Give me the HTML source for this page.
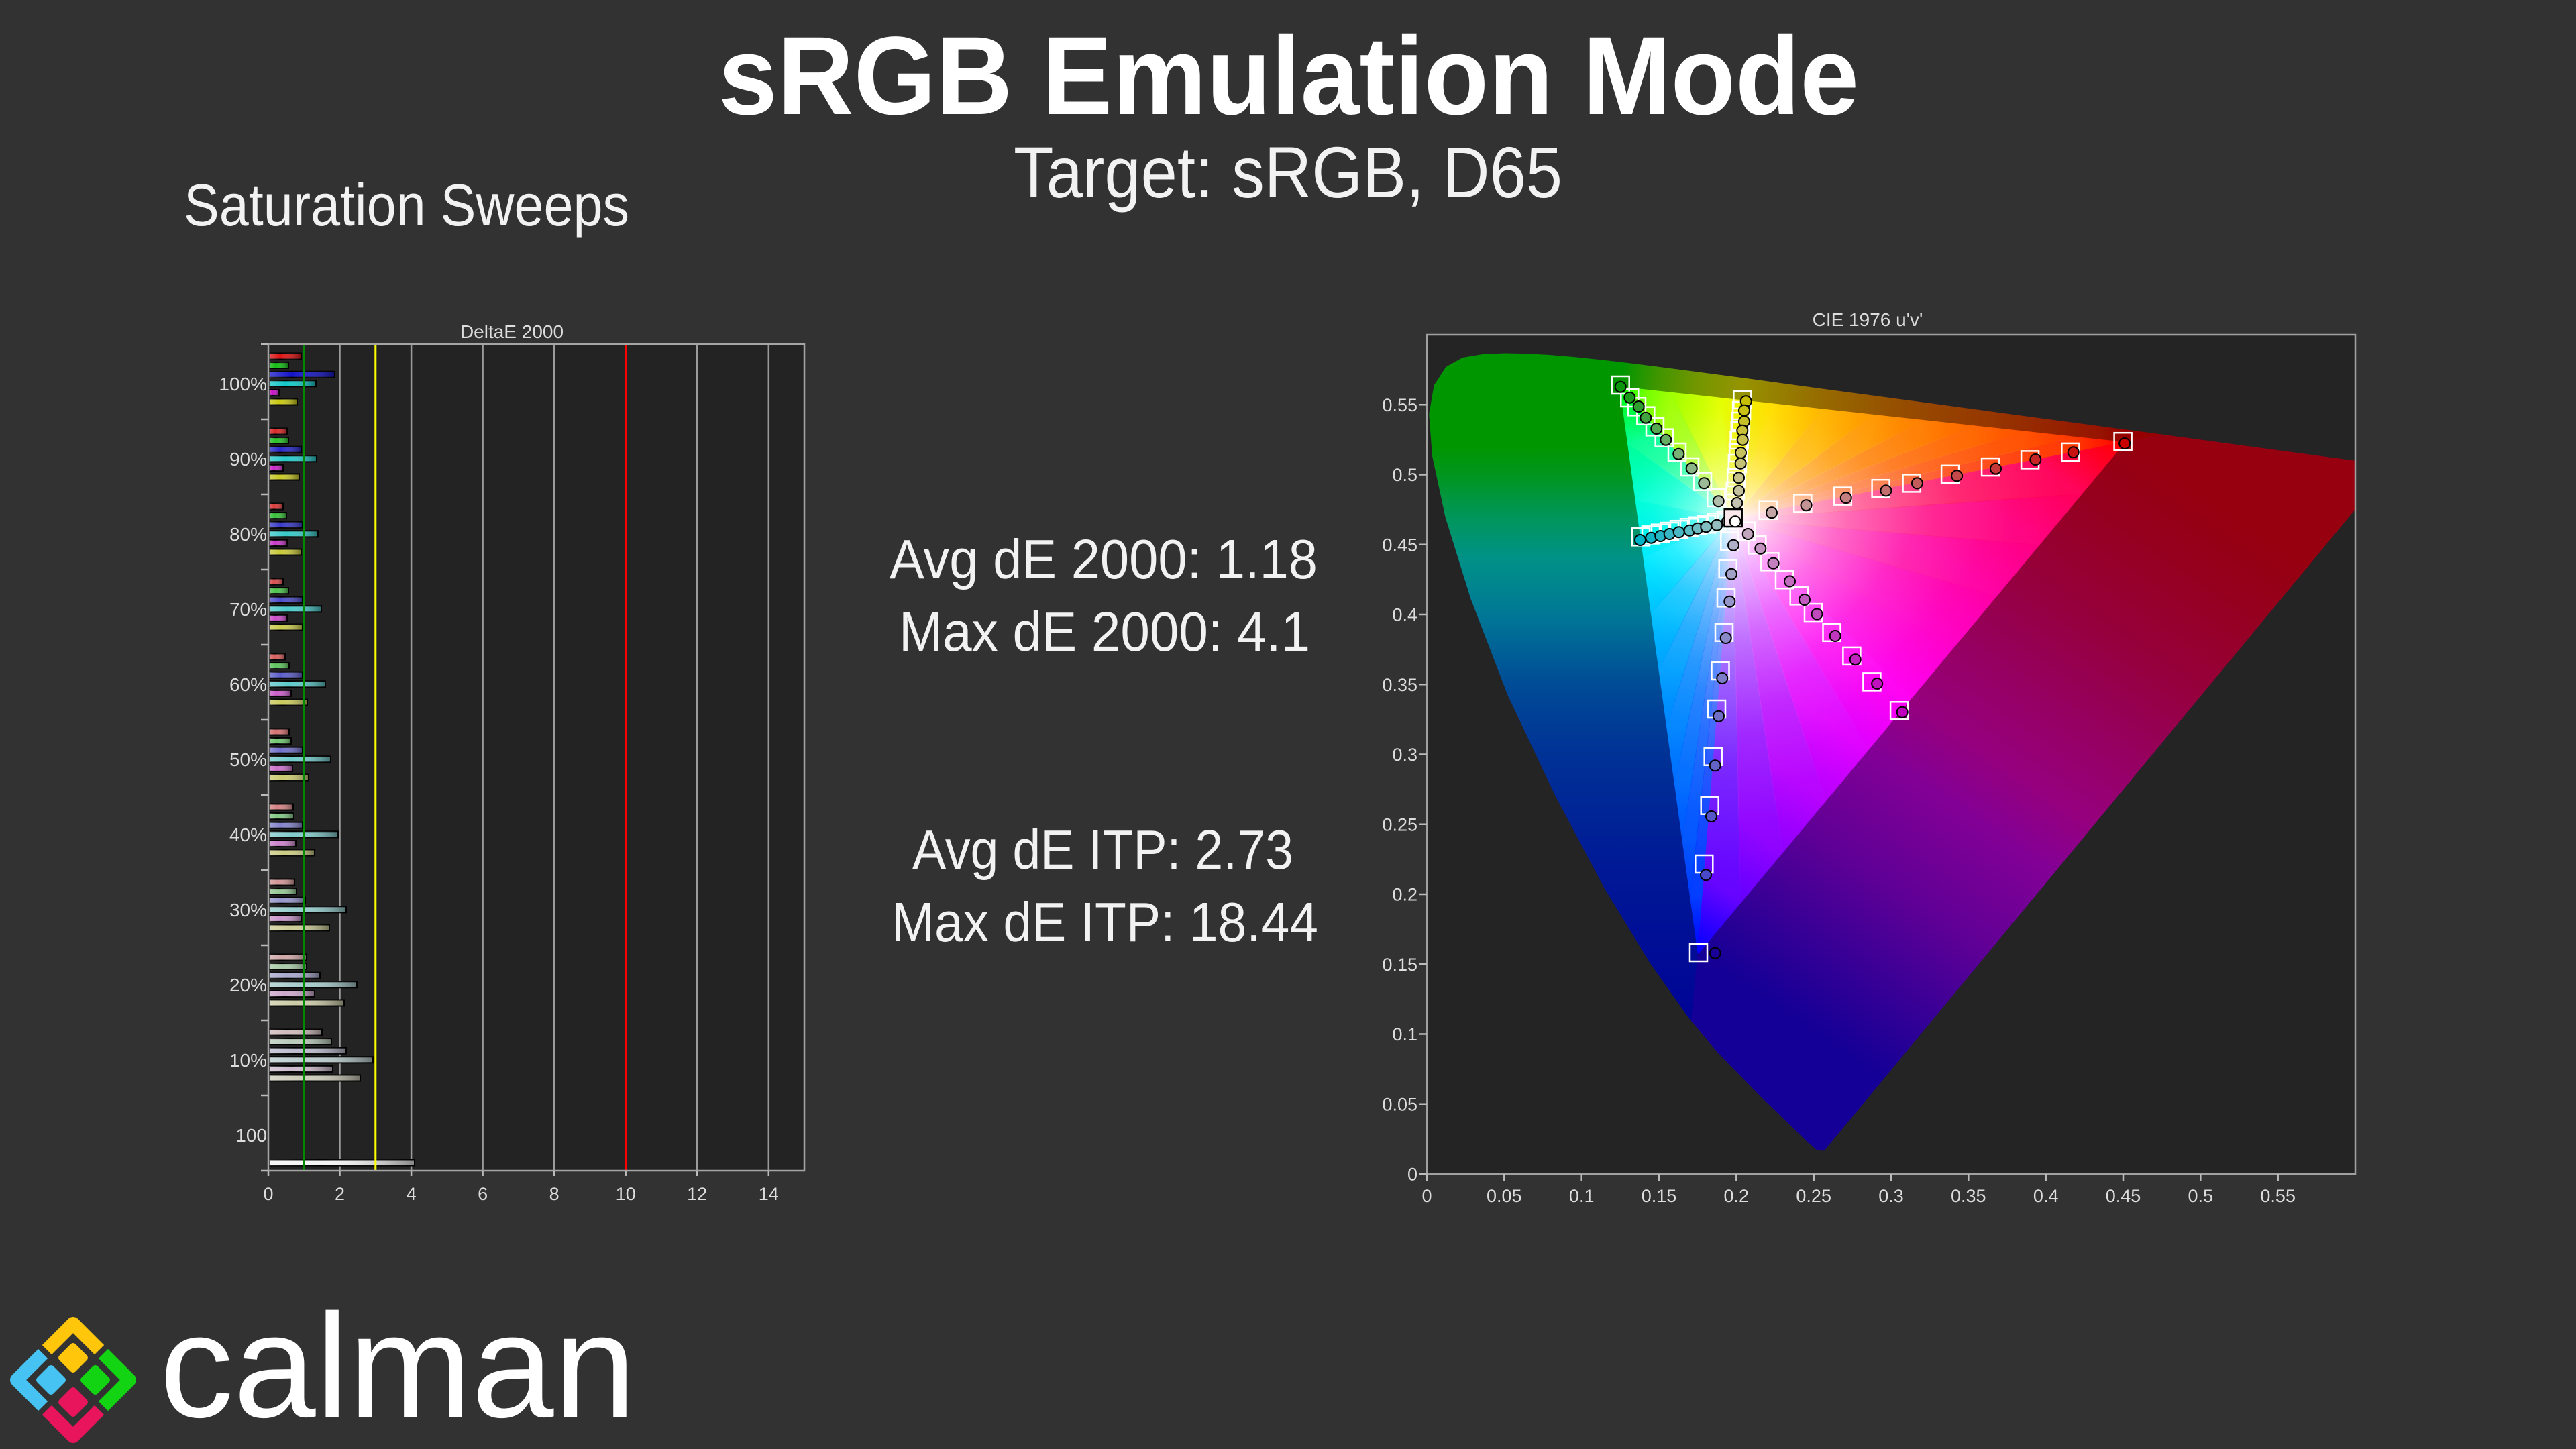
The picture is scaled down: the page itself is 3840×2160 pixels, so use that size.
<!DOCTYPE html>
<html>
<head>
<meta charset="utf-8">
<style>
html,body{margin:0;padding:0;background:#323232;width:3840px;height:2160px;overflow:hidden;}
svg{position:absolute;left:0;top:0;display:block;overflow:hidden;}
text{font-family:"Liberation Sans",sans-serif;}
</style>
</head>
<body>
<svg width="3840" height="2160" viewBox="0 0 3840 2160" xmlns="http://www.w3.org/2000/svg" xmlns:xlink="http://www.w3.org/1999/xlink">
<defs>
  <linearGradient id="sh" x1="0" y1="0" x2="1" y2="0">
    <stop offset="0" stop-color="#fff" stop-opacity="0.25"/>
    <stop offset="0.35" stop-color="#fff" stop-opacity="0"/>
    <stop offset="1" stop-color="#000" stop-opacity="0.45"/>
  </linearGradient>
  <linearGradient id="wb">
    <stop offset="0" stop-color="#fff" stop-opacity="1"/>
    <stop offset="0.15" stop-color="#fff" stop-opacity="0.72"/>
    <stop offset="0.35" stop-color="#fff" stop-opacity="0.42"/>
    <stop offset="0.6" stop-color="#fff" stop-opacity="0.16"/>
    <stop offset="0.85" stop-color="#fff" stop-opacity="0.03"/>
    <stop offset="1" stop-color="#fff" stop-opacity="0"/>
  </linearGradient>
  <linearGradient id="w0" xlink:href="#wb" gradientUnits="userSpaceOnUse" x1="0.1978" y1="0.4683" x2="0.43442" y2="0.52488"/>
  <linearGradient id="w1" xlink:href="#wb" gradientUnits="userSpaceOnUse" x1="0.1978" y1="0.4683" x2="0.40185" y2="0.52884"/>
  <linearGradient id="w2" xlink:href="#wb" gradientUnits="userSpaceOnUse" x1="0.1978" y1="0.4683" x2="0.36928" y2="0.5328"/>
  <linearGradient id="w3" xlink:href="#wb" gradientUnits="userSpaceOnUse" x1="0.1978" y1="0.4683" x2="0.33671" y2="0.53676"/>
  <linearGradient id="w4" xlink:href="#wb" gradientUnits="userSpaceOnUse" x1="0.1978" y1="0.4683" x2="0.30414" y2="0.54072"/>
  <linearGradient id="w5" xlink:href="#wb" gradientUnits="userSpaceOnUse" x1="0.1978" y1="0.4683" x2="0.27157" y2="0.54468"/>
  <linearGradient id="w6" xlink:href="#wb" gradientUnits="userSpaceOnUse" x1="0.1978" y1="0.4683" x2="0.239" y2="0.54864"/>
  <linearGradient id="w7" xlink:href="#wb" gradientUnits="userSpaceOnUse" x1="0.1978" y1="0.4683" x2="0.20643" y2="0.5526"/>
  <linearGradient id="w8" xlink:href="#wb" gradientUnits="userSpaceOnUse" x1="0.1978" y1="0.4683" x2="0.17386" y2="0.55656"/>
  <linearGradient id="w9" xlink:href="#wb" gradientUnits="userSpaceOnUse" x1="0.1978" y1="0.4683" x2="0.14129" y2="0.56052"/>
  <linearGradient id="w10" xlink:href="#wb" gradientUnits="userSpaceOnUse" x1="0.1978" y1="0.4683" x2="0.12752" y2="0.54227"/>
  <linearGradient id="w11" xlink:href="#wb" gradientUnits="userSpaceOnUse" x1="0.1978" y1="0.4683" x2="0.13256" y2="0.50181"/>
  <linearGradient id="w12" xlink:href="#wb" gradientUnits="userSpaceOnUse" x1="0.1978" y1="0.4683" x2="0.1376" y2="0.46135"/>
  <linearGradient id="w13" xlink:href="#wb" gradientUnits="userSpaceOnUse" x1="0.1978" y1="0.4683" x2="0.14264" y2="0.42089"/>
  <linearGradient id="w14" xlink:href="#wb" gradientUnits="userSpaceOnUse" x1="0.1978" y1="0.4683" x2="0.14768" y2="0.38043"/>
  <linearGradient id="w15" xlink:href="#wb" gradientUnits="userSpaceOnUse" x1="0.1978" y1="0.4683" x2="0.15272" y2="0.33997"/>
  <linearGradient id="w16" xlink:href="#wb" gradientUnits="userSpaceOnUse" x1="0.1978" y1="0.4683" x2="0.15776" y2="0.29951"/>
  <linearGradient id="w17" xlink:href="#wb" gradientUnits="userSpaceOnUse" x1="0.1978" y1="0.4683" x2="0.1628" y2="0.25905"/>
  <linearGradient id="w18" xlink:href="#wb" gradientUnits="userSpaceOnUse" x1="0.1978" y1="0.4683" x2="0.16784" y2="0.21859"/>
  <linearGradient id="w19" xlink:href="#wb" gradientUnits="userSpaceOnUse" x1="0.1978" y1="0.4683" x2="0.17288" y2="0.17813"/>
  <linearGradient id="w20" xlink:href="#wb" gradientUnits="userSpaceOnUse" x1="0.1978" y1="0.4683" x2="0.18917" y2="0.17615"/>
  <linearGradient id="w21" xlink:href="#wb" gradientUnits="userSpaceOnUse" x1="0.1978" y1="0.4683" x2="0.2167" y2="0.21265"/>
  <linearGradient id="w22" xlink:href="#wb" gradientUnits="userSpaceOnUse" x1="0.1978" y1="0.4683" x2="0.24423" y2="0.24915"/>
  <linearGradient id="w23" xlink:href="#wb" gradientUnits="userSpaceOnUse" x1="0.1978" y1="0.4683" x2="0.27176" y2="0.28565"/>
  <linearGradient id="w24" xlink:href="#wb" gradientUnits="userSpaceOnUse" x1="0.1978" y1="0.4683" x2="0.29929" y2="0.32215"/>
  <linearGradient id="w25" xlink:href="#wb" gradientUnits="userSpaceOnUse" x1="0.1978" y1="0.4683" x2="0.32682" y2="0.35865"/>
  <linearGradient id="w26" xlink:href="#wb" gradientUnits="userSpaceOnUse" x1="0.1978" y1="0.4683" x2="0.35435" y2="0.39515"/>
  <linearGradient id="w27" xlink:href="#wb" gradientUnits="userSpaceOnUse" x1="0.1978" y1="0.4683" x2="0.38188" y2="0.43165"/>
  <linearGradient id="w28" xlink:href="#wb" gradientUnits="userSpaceOnUse" x1="0.1978" y1="0.4683" x2="0.40941" y2="0.46815"/>
  <linearGradient id="w29" xlink:href="#wb" gradientUnits="userSpaceOnUse" x1="0.1978" y1="0.4683" x2="0.43694" y2="0.50465"/>

  <linearGradient id="c0" gradientUnits="userSpaceOnUse" x1="0.4507" y1="0.5229" x2="0.41813" y2="0.52686"><stop offset="0" stop-color="#ff0000"/><stop offset="1" stop-color="#ff3800"/></linearGradient>
  <linearGradient id="c1" gradientUnits="userSpaceOnUse" x1="0.41813" y1="0.52686" x2="0.38556" y2="0.53082"><stop offset="0" stop-color="#ff3800"/><stop offset="1" stop-color="#ff5100"/></linearGradient>
  <linearGradient id="c2" gradientUnits="userSpaceOnUse" x1="0.38556" y1="0.53082" x2="0.35299" y2="0.53478"><stop offset="0" stop-color="#ff5100"/><stop offset="1" stop-color="#ff6700"/></linearGradient>
  <linearGradient id="c3" gradientUnits="userSpaceOnUse" x1="0.35299" y1="0.53478" x2="0.32042" y2="0.53874"><stop offset="0" stop-color="#ff6700"/><stop offset="1" stop-color="#ff7e00"/></linearGradient>
  <linearGradient id="c4" gradientUnits="userSpaceOnUse" x1="0.32042" y1="0.53874" x2="0.28785" y2="0.5427"><stop offset="0" stop-color="#ff7e00"/><stop offset="1" stop-color="#ff9800"/></linearGradient>
  <linearGradient id="c5" gradientUnits="userSpaceOnUse" x1="0.28785" y1="0.5427" x2="0.25528" y2="0.54666"><stop offset="0" stop-color="#ff9800"/><stop offset="1" stop-color="#ffb700"/></linearGradient>
  <linearGradient id="c6" gradientUnits="userSpaceOnUse" x1="0.25528" y1="0.54666" x2="0.22271" y2="0.55062"><stop offset="0" stop-color="#ffb700"/><stop offset="1" stop-color="#ffdf00"/></linearGradient>
  <linearGradient id="c7" gradientUnits="userSpaceOnUse" x1="0.22271" y1="0.55062" x2="0.19014" y2="0.55458"><stop offset="0" stop-color="#ffdf00"/><stop offset="1" stop-color="#e4ff00"/></linearGradient>
  <linearGradient id="c8" gradientUnits="userSpaceOnUse" x1="0.19014" y1="0.55458" x2="0.15757" y2="0.55854"><stop offset="0" stop-color="#e4ff00"/><stop offset="1" stop-color="#9eff00"/></linearGradient>
  <linearGradient id="c9" gradientUnits="userSpaceOnUse" x1="0.15757" y1="0.55854" x2="0.125" y2="0.5625"><stop offset="0" stop-color="#9eff00"/><stop offset="0.5" stop-color="#70ff00"/><stop offset="1" stop-color="#00ff00"/></linearGradient>
  <linearGradient id="c10" gradientUnits="userSpaceOnUse" x1="0.125" y1="0.5625" x2="0.13004" y2="0.52204"><stop offset="0" stop-color="#00ff00"/><stop offset="1" stop-color="#00ff96"/></linearGradient>
  <linearGradient id="c11" gradientUnits="userSpaceOnUse" x1="0.13004" y1="0.52204" x2="0.13508" y2="0.48158"><stop offset="0" stop-color="#00ff96"/><stop offset="1" stop-color="#00ffd8"/></linearGradient>
  <linearGradient id="c12" gradientUnits="userSpaceOnUse" x1="0.13508" y1="0.48158" x2="0.14012" y2="0.44112"><stop offset="0" stop-color="#00ffd8"/><stop offset="1" stop-color="#00ebff"/></linearGradient>
  <linearGradient id="c13" gradientUnits="userSpaceOnUse" x1="0.14012" y1="0.44112" x2="0.14516" y2="0.40066"><stop offset="0" stop-color="#00ebff"/><stop offset="1" stop-color="#00c1ff"/></linearGradient>
  <linearGradient id="c14" gradientUnits="userSpaceOnUse" x1="0.14516" y1="0.40066" x2="0.1502" y2="0.3602"><stop offset="0" stop-color="#00c1ff"/><stop offset="1" stop-color="#00a0ff"/></linearGradient>
  <linearGradient id="c15" gradientUnits="userSpaceOnUse" x1="0.1502" y1="0.3602" x2="0.15524" y2="0.31974"><stop offset="0" stop-color="#00a0ff"/><stop offset="1" stop-color="#0085ff"/></linearGradient>
  <linearGradient id="c16" gradientUnits="userSpaceOnUse" x1="0.15524" y1="0.31974" x2="0.16028" y2="0.27928"><stop offset="0" stop-color="#0085ff"/><stop offset="1" stop-color="#006dff"/></linearGradient>
  <linearGradient id="c17" gradientUnits="userSpaceOnUse" x1="0.16028" y1="0.27928" x2="0.16532" y2="0.23882"><stop offset="0" stop-color="#006dff"/><stop offset="1" stop-color="#0055ff"/></linearGradient>
  <linearGradient id="c18" gradientUnits="userSpaceOnUse" x1="0.16532" y1="0.23882" x2="0.17036" y2="0.19836"><stop offset="0" stop-color="#0055ff"/><stop offset="1" stop-color="#003bff"/></linearGradient>
  <linearGradient id="c19" gradientUnits="userSpaceOnUse" x1="0.17036" y1="0.19836" x2="0.1754" y2="0.1579"><stop offset="0" stop-color="#003bff"/><stop offset="1" stop-color="#0000ff"/></linearGradient>
  <linearGradient id="c20" gradientUnits="userSpaceOnUse" x1="0.1754" y1="0.1579" x2="0.20293" y2="0.1944"><stop offset="0" stop-color="#0000ff"/><stop offset="1" stop-color="#6300ff"/></linearGradient>
  <linearGradient id="c21" gradientUnits="userSpaceOnUse" x1="0.20293" y1="0.1944" x2="0.23046" y2="0.2309"><stop offset="0" stop-color="#6300ff"/><stop offset="1" stop-color="#8f00ff"/></linearGradient>
  <linearGradient id="c22" gradientUnits="userSpaceOnUse" x1="0.23046" y1="0.2309" x2="0.25799" y2="0.2674"><stop offset="0" stop-color="#8f00ff"/><stop offset="1" stop-color="#b700ff"/></linearGradient>
  <linearGradient id="c23" gradientUnits="userSpaceOnUse" x1="0.25799" y1="0.2674" x2="0.28552" y2="0.3039"><stop offset="0" stop-color="#b700ff"/><stop offset="1" stop-color="#e000ff"/></linearGradient>
  <linearGradient id="c24" gradientUnits="userSpaceOnUse" x1="0.28552" y1="0.3039" x2="0.31305" y2="0.3404"><stop offset="0" stop-color="#e000ff"/><stop offset="1" stop-color="#ff00f2"/></linearGradient>
  <linearGradient id="c25" gradientUnits="userSpaceOnUse" x1="0.31305" y1="0.3404" x2="0.34058" y2="0.3769"><stop offset="0" stop-color="#ff00f2"/><stop offset="1" stop-color="#ff00c9"/></linearGradient>
  <linearGradient id="c26" gradientUnits="userSpaceOnUse" x1="0.34058" y1="0.3769" x2="0.36811" y2="0.4134"><stop offset="0" stop-color="#ff00c9"/><stop offset="1" stop-color="#ff00a4"/></linearGradient>
  <linearGradient id="c27" gradientUnits="userSpaceOnUse" x1="0.36811" y1="0.4134" x2="0.39564" y2="0.4499"><stop offset="0" stop-color="#ff00a4"/><stop offset="1" stop-color="#ff0081"/></linearGradient>
  <linearGradient id="c28" gradientUnits="userSpaceOnUse" x1="0.39564" y1="0.4499" x2="0.42317" y2="0.4864"><stop offset="0" stop-color="#ff0081"/><stop offset="1" stop-color="#ff0059"/></linearGradient>
  <linearGradient id="c29" gradientUnits="userSpaceOnUse" x1="0.42317" y1="0.4864" x2="0.4507" y2="0.5229"><stop offset="0" stop-color="#ff0059"/><stop offset="1" stop-color="#ff0000"/></linearGradient>

  <linearGradient id="gTop" gradientUnits="userSpaceOnUse" x1="0.4507" y1="0.5229" x2="0.125" y2="0.5625">
    <stop offset="0" stop-color="#960000"/>
    <stop offset="0.05" stop-color="#961400"/>
    <stop offset="0.25" stop-color="#963400"/>
    <stop offset="0.45" stop-color="#964e00"/>
    <stop offset="0.6" stop-color="#966a00"/>
    <stop offset="0.7" stop-color="#968200"/>
    <stop offset="0.76" stop-color="#969400"/>
    <stop offset="0.85" stop-color="#739600"/>
    <stop offset="0.93" stop-color="#409600"/>
    <stop offset="1" stop-color="#009600"/>
  </linearGradient>
  <linearGradient id="gLeft" gradientUnits="userSpaceOnUse" x1="0" y1="0.6" x2="0" y2="0">
    <stop offset="0" stop-color="#009600"/>
    <stop offset="0.133" stop-color="#009600"/>
    <stop offset="0.167" stop-color="#00961e"/>
    <stop offset="0.217" stop-color="#00965a"/>
    <stop offset="0.267" stop-color="#009187"/>
    <stop offset="0.333" stop-color="#007896"/>
    <stop offset="0.417" stop-color="#004b96"/>
    <stop offset="0.5" stop-color="#003296"/>
    <stop offset="0.633" stop-color="#001996"/>
    <stop offset="0.8" stop-color="#000596"/>
    <stop offset="0.917" stop-color="#000096"/>
  </linearGradient>
  <linearGradient id="gBR" gradientUnits="userSpaceOnUse" x1="0.1754" y1="0.1579" x2="0.4507" y2="0.5229">
    <stop offset="0" stop-color="#140096"/>
    <stop offset="0.1" stop-color="#320096"/>
    <stop offset="0.25" stop-color="#600096"/>
    <stop offset="0.4" stop-color="#820096"/>
    <stop offset="0.5" stop-color="#96007d"/>
    <stop offset="0.6" stop-color="#960064"/>
    <stop offset="0.75" stop-color="#96003c"/>
    <stop offset="0.9" stop-color="#96001e"/>
    <stop offset="1" stop-color="#96000f"/>
  </linearGradient>

  <clipPath id="cLoc">
    <path d="M0.2568,0.0166 L0.2522,0.0169 0.2461,0.0226 0.2347,0.0350 0.2161,0.0549 0.1877,0.0871 0.1690,0.1119 0.1441,0.1510 0.1147,0.2044 0.0828,0.2708 0.0521,0.3427 0.0282,0.4117 0.0119,0.4698 0.0035,0.5131 0.0014,0.5432 0.0046,0.5638 0.0123,0.5770 0.0231,0.5837 0.0360,0.5861 0.0501,0.5868 0.0643,0.5865 0.0792,0.5856 0.0953,0.5841 0.1127,0.5821 0.1319,0.5796 0.1531,0.5766 0.2026,0.5694 0.2623,0.5604 0.3315,0.5501 0.4035,0.5393 0.4692,0.5296 0.5203,0.5219 0.5565,0.5165 0.5830,0.5125 0.6005,0.5099 0.6234,0.5065 Z"/>
  </clipPath>
  <clipPath id="cFrm">
    <rect x="0" y="0" width="0.6" height="0.6"/>
  </clipPath>
</defs>

<rect x="0" y="0" width="3840" height="2160" fill="#323232"/>

<text x="1921" y="170" font-size="166" font-weight="bold" fill="#ffffff" text-anchor="middle" textLength="1700" lengthAdjust="spacingAndGlyphs">sRGB Emulation Mode</text>
<text x="1920" y="294" font-size="108" fill="#f2f2f2" text-anchor="middle" textLength="818" lengthAdjust="spacingAndGlyphs">Target: sRGB, D65</text>
<text x="274" y="336" font-size="88" fill="#f2f2f2" textLength="664" lengthAdjust="spacingAndGlyphs">Saturation Sweeps</text>

<g font-size="83" fill="#f2f2f2">
  <text x="1326" y="862" textLength="638" lengthAdjust="spacingAndGlyphs">Avg dE 2000: 1.18</text>
  <text x="1340" y="970" textLength="613" lengthAdjust="spacingAndGlyphs">Max dE 2000: 4.1</text>
  <text x="1360" y="1295" textLength="568" lengthAdjust="spacingAndGlyphs">Avg dE ITP: 2.73</text>
  <text x="1329" y="1403" textLength="636" lengthAdjust="spacingAndGlyphs">Max dE ITP: 18.44</text>
</g>

<!-- ============ Bar chart ============ -->
<text x="763" y="504" font-size="28" fill="#dddddd" text-anchor="middle">DeltaE 2000</text>
<rect x="400" y="513" width="799" height="1232" fill="#232323"/>
<g stroke="#9b9b9b" stroke-width="2.5">
  <line x1="506.5" y1="513" x2="506.5" y2="1745"/>
  <line x1="613.1" y1="513" x2="613.1" y2="1745"/>
  <line x1="719.6" y1="513" x2="719.6" y2="1745"/>
  <line x1="826.2" y1="513" x2="826.2" y2="1745"/>
  <line x1="1039.2" y1="513" x2="1039.2" y2="1745"/>
  <line x1="1145.8" y1="513" x2="1145.8" y2="1745"/>
</g>

<g transform="translate(0,513)">
  <g stroke="#000" stroke-width="2">
    <rect x="401" y="13.5" width="48" height="9" fill="#dc1414"/>
    <rect x="401" y="27.1" width="29" height="9" fill="#14be14"/>
    <rect x="401" y="40.7" width="98" height="9" fill="#1414c8"/>
    <rect x="401" y="54.3" width="70" height="9" fill="#14c8c8"/>
    <rect x="401" y="67.9" width="15" height="9" fill="#c814c8"/>
    <rect x="401" y="81.5" width="42" height="9" fill="#c8c814"/>
  </g>
  <g fill="url(#sh)">
    <rect x="401" y="13.5" width="48" height="9"/><rect x="401" y="27.1" width="29" height="9"/><rect x="401" y="40.7" width="98" height="9"/><rect x="401" y="54.3" width="70" height="9"/><rect x="401" y="67.9" width="15" height="9"/><rect x="401" y="81.5" width="42" height="9"/>
  </g>
</g>
<g transform="translate(0,625)">
  <g stroke="#000" stroke-width="2">
    <rect x="401" y="13.5" width="27" height="9" fill="#db2727"/>
    <rect x="401" y="27.1" width="29" height="9" fill="#27c027"/>
    <rect x="401" y="40.7" width="48" height="9" fill="#2727c9"/>
    <rect x="401" y="54.3" width="71" height="9" fill="#27c9c9"/>
    <rect x="401" y="67.9" width="21" height="9" fill="#c927c9"/>
    <rect x="401" y="81.5" width="45" height="9" fill="#c9c927"/>
  </g>
  <g fill="url(#sh)">
    <rect x="401" y="13.5" width="27" height="9"/><rect x="401" y="27.1" width="29" height="9"/><rect x="401" y="40.7" width="48" height="9"/><rect x="401" y="54.3" width="71" height="9"/><rect x="401" y="67.9" width="21" height="9"/><rect x="401" y="81.5" width="45" height="9"/>
  </g>
</g>
<g transform="translate(0,737)">
  <g stroke="#000" stroke-width="2">
    <rect x="401" y="13.5" width="21" height="9" fill="#d93939"/>
    <rect x="401" y="27.1" width="26" height="9" fill="#39c139"/>
    <rect x="401" y="40.7" width="50" height="9" fill="#3939c9"/>
    <rect x="401" y="54.3" width="73" height="9" fill="#39c9c9"/>
    <rect x="401" y="67.9" width="27" height="9" fill="#c939c9"/>
    <rect x="401" y="81.5" width="48" height="9" fill="#c9c939"/>
  </g>
  <g fill="url(#sh)">
    <rect x="401" y="13.5" width="21" height="9"/><rect x="401" y="27.1" width="26" height="9"/><rect x="401" y="40.7" width="50" height="9"/><rect x="401" y="54.3" width="73" height="9"/><rect x="401" y="67.9" width="27" height="9"/><rect x="401" y="81.5" width="48" height="9"/>
  </g>
</g>
<g transform="translate(0,849)">
  <g stroke="#000" stroke-width="2">
    <rect x="401" y="13.5" width="21" height="9" fill="#d84c4c"/>
    <rect x="401" y="27.1" width="29" height="9" fill="#4cc34c"/>
    <rect x="401" y="40.7" width="50" height="9" fill="#4c4cca"/>
    <rect x="401" y="54.3" width="78" height="9" fill="#4ccaca"/>
    <rect x="401" y="67.9" width="27" height="9" fill="#ca4cca"/>
    <rect x="401" y="81.5" width="50" height="9" fill="#caca4c"/>
  </g>
  <g fill="url(#sh)">
    <rect x="401" y="13.5" width="21" height="9"/><rect x="401" y="27.1" width="29" height="9"/><rect x="401" y="40.7" width="50" height="9"/><rect x="401" y="54.3" width="78" height="9"/><rect x="401" y="67.9" width="27" height="9"/><rect x="401" y="81.5" width="50" height="9"/>
  </g>
</g>
<g transform="translate(0,961)">
  <g stroke="#000" stroke-width="2">
    <rect x="401" y="13.5" width="24" height="9" fill="#d65e5e"/>
    <rect x="401" y="27.1" width="30" height="9" fill="#5ec45e"/>
    <rect x="401" y="40.7" width="50" height="9" fill="#5e5eca"/>
    <rect x="401" y="54.3" width="84" height="9" fill="#5ecaca"/>
    <rect x="401" y="67.9" width="33" height="9" fill="#ca5eca"/>
    <rect x="401" y="81.5" width="57" height="9" fill="#caca5e"/>
  </g>
  <g fill="url(#sh)">
    <rect x="401" y="13.5" width="24" height="9"/><rect x="401" y="27.1" width="30" height="9"/><rect x="401" y="40.7" width="50" height="9"/><rect x="401" y="54.3" width="84" height="9"/><rect x="401" y="67.9" width="33" height="9"/><rect x="401" y="81.5" width="57" height="9"/>
  </g>
</g>
<g transform="translate(0,1073)">
  <g stroke="#000" stroke-width="2">
    <rect x="401" y="13.5" width="30" height="9" fill="#d57171"/>
    <rect x="401" y="27.1" width="33" height="9" fill="#71c671"/>
    <rect x="401" y="40.7" width="50" height="9" fill="#7171cb"/>
    <rect x="401" y="54.3" width="92" height="9" fill="#71cbcb"/>
    <rect x="401" y="67.9" width="35" height="9" fill="#cb71cb"/>
    <rect x="401" y="81.5" width="59" height="9" fill="#cbcb71"/>
  </g>
  <g fill="url(#sh)">
    <rect x="401" y="13.5" width="30" height="9"/><rect x="401" y="27.1" width="33" height="9"/><rect x="401" y="40.7" width="50" height="9"/><rect x="401" y="54.3" width="92" height="9"/><rect x="401" y="67.9" width="35" height="9"/><rect x="401" y="81.5" width="59" height="9"/>
  </g>
</g>
<g transform="translate(0,1185)">
  <g stroke="#000" stroke-width="2">
    <rect x="401" y="13.5" width="36" height="9" fill="#d38383"/>
    <rect x="401" y="27.1" width="37" height="9" fill="#83c783"/>
    <rect x="401" y="40.7" width="50" height="9" fill="#8383cb"/>
    <rect x="401" y="54.3" width="103" height="9" fill="#83cbcb"/>
    <rect x="401" y="67.9" width="40" height="9" fill="#cb83cb"/>
    <rect x="401" y="81.5" width="68" height="9" fill="#cbcb83"/>
  </g>
  <g fill="url(#sh)">
    <rect x="401" y="13.5" width="36" height="9"/><rect x="401" y="27.1" width="37" height="9"/><rect x="401" y="40.7" width="50" height="9"/><rect x="401" y="54.3" width="103" height="9"/><rect x="401" y="67.9" width="40" height="9"/><rect x="401" y="81.5" width="68" height="9"/>
  </g>
</g>
<g transform="translate(0,1297)">
  <g stroke="#000" stroke-width="2">
    <rect x="401" y="13.5" width="38" height="9" fill="#d29696"/>
    <rect x="401" y="27.1" width="41" height="9" fill="#96c996"/>
    <rect x="401" y="40.7" width="54" height="9" fill="#9696cc"/>
    <rect x="401" y="54.3" width="115" height="9" fill="#96cccc"/>
    <rect x="401" y="67.9" width="48" height="9" fill="#cc96cc"/>
    <rect x="401" y="81.5" width="90" height="9" fill="#cccc96"/>
  </g>
  <g fill="url(#sh)">
    <rect x="401" y="13.5" width="38" height="9"/><rect x="401" y="27.1" width="41" height="9"/><rect x="401" y="40.7" width="54" height="9"/><rect x="401" y="54.3" width="115" height="9"/><rect x="401" y="67.9" width="48" height="9"/><rect x="401" y="81.5" width="90" height="9"/>
  </g>
</g>
<g transform="translate(0,1409)">
  <g stroke="#000" stroke-width="2">
    <rect x="401" y="13.5" width="56" height="9" fill="#d0a8a8"/>
    <rect x="401" y="27.1" width="56" height="9" fill="#a8caa8"/>
    <rect x="401" y="40.7" width="76" height="9" fill="#a8a8cc"/>
    <rect x="401" y="54.3" width="131" height="9" fill="#a8cccc"/>
    <rect x="401" y="67.9" width="68" height="9" fill="#cca8cc"/>
    <rect x="401" y="81.5" width="112" height="9" fill="#cccca8"/>
  </g>
  <g fill="url(#sh)">
    <rect x="401" y="13.5" width="56" height="9"/><rect x="401" y="27.1" width="56" height="9"/><rect x="401" y="40.7" width="76" height="9"/><rect x="401" y="54.3" width="131" height="9"/><rect x="401" y="67.9" width="68" height="9"/><rect x="401" y="81.5" width="112" height="9"/>
  </g>
</g>
<g transform="translate(0,1521)">
  <g stroke="#000" stroke-width="2">
    <rect x="401" y="13.5" width="79" height="9" fill="#cfbbbb"/>
    <rect x="401" y="27.1" width="93" height="9" fill="#bbccbb"/>
    <rect x="401" y="40.7" width="115" height="9" fill="#bbbbcd"/>
    <rect x="401" y="54.3" width="155" height="9" fill="#bbcdcd"/>
    <rect x="401" y="67.9" width="95" height="9" fill="#cdbbcd"/>
    <rect x="401" y="81.5" width="136" height="9" fill="#cdcdbb"/>
  </g>
  <g fill="url(#sh)">
    <rect x="401" y="13.5" width="79" height="9"/><rect x="401" y="27.1" width="93" height="9"/><rect x="401" y="40.7" width="115" height="9"/><rect x="401" y="54.3" width="155" height="9"/><rect x="401" y="67.9" width="95" height="9"/><rect x="401" y="81.5" width="136" height="9"/>
  </g>
</g>
<rect x="401" y="1728.5" width="217" height="9" fill="#f4f4f4" stroke="#000" stroke-width="2"/>
<rect x="401" y="1728.5" width="217" height="9" fill="url(#sh)"/>

<line x1="453.3" y1="513" x2="453.3" y2="1745" stroke="#008a00" stroke-width="3"/>
<line x1="559.8" y1="513" x2="559.8" y2="1745" stroke="#ffff00" stroke-width="3"/>
<line x1="932.7" y1="513" x2="932.7" y2="1745" stroke="#ff0000" stroke-width="3"/>

<rect x="400" y="513" width="799" height="1232" fill="none" stroke="#a5a5a5" stroke-width="2.5"/>

<g stroke="#bbbbbb" stroke-width="2.5">
  <line x1="389" y1="513" x2="400" y2="513"/>
  <line x1="389" y1="625" x2="400" y2="625"/>
  <line x1="389" y1="737" x2="400" y2="737"/>
  <line x1="389" y1="849" x2="400" y2="849"/>
  <line x1="389" y1="961" x2="400" y2="961"/>
  <line x1="389" y1="1073" x2="400" y2="1073"/>
  <line x1="389" y1="1185" x2="400" y2="1185"/>
  <line x1="389" y1="1297" x2="400" y2="1297"/>
  <line x1="389" y1="1409" x2="400" y2="1409"/>
  <line x1="389" y1="1521" x2="400" y2="1521"/>
  <line x1="389" y1="1633" x2="400" y2="1633"/>
  <line x1="389" y1="1745" x2="400" y2="1745"/>
  <line x1="400" y1="1745" x2="400" y2="1753"/>
  <line x1="506.5" y1="1745" x2="506.5" y2="1753"/>
  <line x1="613.1" y1="1745" x2="613.1" y2="1753"/>
  <line x1="719.6" y1="1745" x2="719.6" y2="1753"/>
  <line x1="826.2" y1="1745" x2="826.2" y2="1753"/>
  <line x1="932.7" y1="1745" x2="932.7" y2="1753"/>
  <line x1="1039.2" y1="1745" x2="1039.2" y2="1753"/>
  <line x1="1145.8" y1="1745" x2="1145.8" y2="1753"/>
</g>
<g font-size="28" fill="#dddddd" text-anchor="end">
  <text x="398" y="582">100%</text>
  <text x="398" y="694">90%</text>
  <text x="398" y="806">80%</text>
  <text x="398" y="918">70%</text>
  <text x="398" y="1030">60%</text>
  <text x="398" y="1142">50%</text>
  <text x="398" y="1254">40%</text>
  <text x="398" y="1366">30%</text>
  <text x="398" y="1478">20%</text>
  <text x="398" y="1590">10%</text>
  <text x="398" y="1702">100</text>
</g>
<g font-size="27" fill="#dddddd" text-anchor="middle">
  <text x="400" y="1789">0</text>
  <text x="506.5" y="1789">2</text>
  <text x="613.1" y="1789">4</text>
  <text x="719.6" y="1789">6</text>
  <text x="826.2" y="1789">8</text>
  <text x="932.7" y="1789">10</text>
  <text x="1039.2" y="1789">12</text>
  <text x="1145.8" y="1789">14</text>
</g>

<!-- ============ CIE chart ============ -->
<text x="2784" y="486" font-size="28" fill="#dddddd" text-anchor="middle">CIE 1976 u'v'</text>
<rect x="2127" y="499" width="1384" height="1251" fill="#242424"/>

<g transform="translate(2127 1750) scale(2306.67 -2085)">
  <g clip-path="url(#cFrm)">
    <g clip-path="url(#cLoc)">
      <rect x="-0.02" y="-0.02" width="0.66" height="0.64" fill="#3a1050"/>
      <polygon points="0.4507,0.5229 0.125,0.5625 0.0574,0.62 0.63,0.62 0.63,0.562" fill="url(#gTop)" stroke="url(#gTop)" stroke-width="0.001"/>
      <polygon points="0.125,0.5625 0.1754,0.1579 0.1604,-0.02 -0.02,-0.02 -0.02,0.62 0.0574,0.62" fill="url(#gLeft)" stroke="url(#gLeft)" stroke-width="0.001"/>
      <polygon points="0.1754,0.1579 0.4507,0.5229 0.63,0.562 0.63,-0.02 0.1604,-0.02" fill="url(#gBR)" stroke="url(#gBR)" stroke-width="0.001"/>
    </g>
    <g stroke-width="0.0008" stroke-linejoin="bevel">
      <polygon points="0.1978,0.4683 0.4507,0.5229 0.41813,0.52686" fill="url(#c0)" stroke="url(#c0)"/>
      <polygon points="0.1978,0.4683 0.41813,0.52686 0.38556,0.53082" fill="url(#c1)" stroke="url(#c1)"/>
      <polygon points="0.1978,0.4683 0.38556,0.53082 0.35299,0.53478" fill="url(#c2)" stroke="url(#c2)"/>
      <polygon points="0.1978,0.4683 0.35299,0.53478 0.32042,0.53874" fill="url(#c3)" stroke="url(#c3)"/>
      <polygon points="0.1978,0.4683 0.32042,0.53874 0.28785,0.5427" fill="url(#c4)" stroke="url(#c4)"/>
      <polygon points="0.1978,0.4683 0.28785,0.5427 0.25528,0.54666" fill="url(#c5)" stroke="url(#c5)"/>
      <polygon points="0.1978,0.4683 0.25528,0.54666 0.22271,0.55062" fill="url(#c6)" stroke="url(#c6)"/>
      <polygon points="0.1978,0.4683 0.22271,0.55062 0.19014,0.55458" fill="url(#c7)" stroke="url(#c7)"/>
      <polygon points="0.1978,0.4683 0.19014,0.55458 0.15757,0.55854" fill="url(#c8)" stroke="url(#c8)"/>
      <polygon points="0.1978,0.4683 0.15757,0.55854 0.125,0.5625" fill="url(#c9)" stroke="url(#c9)"/>
      <polygon points="0.1978,0.4683 0.125,0.5625 0.13004,0.52204" fill="url(#c10)" stroke="url(#c10)"/>
      <polygon points="0.1978,0.4683 0.13004,0.52204 0.13508,0.48158" fill="url(#c11)" stroke="url(#c11)"/>
      <polygon points="0.1978,0.4683 0.13508,0.48158 0.14012,0.44112" fill="url(#c12)" stroke="url(#c12)"/>
      <polygon points="0.1978,0.4683 0.14012,0.44112 0.14516,0.40066" fill="url(#c13)" stroke="url(#c13)"/>
      <polygon points="0.1978,0.4683 0.14516,0.40066 0.1502,0.3602" fill="url(#c14)" stroke="url(#c14)"/>
      <polygon points="0.1978,0.4683 0.1502,0.3602 0.15524,0.31974" fill="url(#c15)" stroke="url(#c15)"/>
      <polygon points="0.1978,0.4683 0.15524,0.31974 0.16028,0.27928" fill="url(#c16)" stroke="url(#c16)"/>
      <polygon points="0.1978,0.4683 0.16028,0.27928 0.16532,0.23882" fill="url(#c17)" stroke="url(#c17)"/>
      <polygon points="0.1978,0.4683 0.16532,0.23882 0.17036,0.19836" fill="url(#c18)" stroke="url(#c18)"/>
      <polygon points="0.1978,0.4683 0.17036,0.19836 0.1754,0.1579" fill="url(#c19)" stroke="url(#c19)"/>
      <polygon points="0.1978,0.4683 0.1754,0.1579 0.20293,0.1944" fill="url(#c20)" stroke="url(#c20)"/>
      <polygon points="0.1978,0.4683 0.20293,0.1944 0.23046,0.2309" fill="url(#c21)" stroke="url(#c21)"/>
      <polygon points="0.1978,0.4683 0.23046,0.2309 0.25799,0.2674" fill="url(#c22)" stroke="url(#c22)"/>
      <polygon points="0.1978,0.4683 0.25799,0.2674 0.28552,0.3039" fill="url(#c23)" stroke="url(#c23)"/>
      <polygon points="0.1978,0.4683 0.28552,0.3039 0.31305,0.3404" fill="url(#c24)" stroke="url(#c24)"/>
      <polygon points="0.1978,0.4683 0.31305,0.3404 0.34058,0.3769" fill="url(#c25)" stroke="url(#c25)"/>
      <polygon points="0.1978,0.4683 0.34058,0.3769 0.36811,0.4134" fill="url(#c26)" stroke="url(#c26)"/>
      <polygon points="0.1978,0.4683 0.36811,0.4134 0.39564,0.4499" fill="url(#c27)" stroke="url(#c27)"/>
      <polygon points="0.1978,0.4683 0.39564,0.4499 0.42317,0.4864" fill="url(#c28)" stroke="url(#c28)"/>
      <polygon points="0.1978,0.4683 0.42317,0.4864 0.4507,0.5229" fill="url(#c29)" stroke="url(#c29)"/>
    </g>
    <g shape-rendering="crispEdges">
      <polygon points="0.1978,0.4683 0.4507,0.5229 0.41813,0.52686" fill="url(#w0)"/>
      <polygon points="0.1978,0.4683 0.41813,0.52686 0.38556,0.53082" fill="url(#w1)"/>
      <polygon points="0.1978,0.4683 0.38556,0.53082 0.35299,0.53478" fill="url(#w2)"/>
      <polygon points="0.1978,0.4683 0.35299,0.53478 0.32042,0.53874" fill="url(#w3)"/>
      <polygon points="0.1978,0.4683 0.32042,0.53874 0.28785,0.5427" fill="url(#w4)"/>
      <polygon points="0.1978,0.4683 0.28785,0.5427 0.25528,0.54666" fill="url(#w5)"/>
      <polygon points="0.1978,0.4683 0.25528,0.54666 0.22271,0.55062" fill="url(#w6)"/>
      <polygon points="0.1978,0.4683 0.22271,0.55062 0.19014,0.55458" fill="url(#w7)"/>
      <polygon points="0.1978,0.4683 0.19014,0.55458 0.15757,0.55854" fill="url(#w8)"/>
      <polygon points="0.1978,0.4683 0.15757,0.55854 0.125,0.5625" fill="url(#w9)"/>
      <polygon points="0.1978,0.4683 0.125,0.5625 0.13004,0.52204" fill="url(#w10)"/>
      <polygon points="0.1978,0.4683 0.13004,0.52204 0.13508,0.48158" fill="url(#w11)"/>
      <polygon points="0.1978,0.4683 0.13508,0.48158 0.14012,0.44112" fill="url(#w12)"/>
      <polygon points="0.1978,0.4683 0.14012,0.44112 0.14516,0.40066" fill="url(#w13)"/>
      <polygon points="0.1978,0.4683 0.14516,0.40066 0.1502,0.3602" fill="url(#w14)"/>
      <polygon points="0.1978,0.4683 0.1502,0.3602 0.15524,0.31974" fill="url(#w15)"/>
      <polygon points="0.1978,0.4683 0.15524,0.31974 0.16028,0.27928" fill="url(#w16)"/>
      <polygon points="0.1978,0.4683 0.16028,0.27928 0.16532,0.23882" fill="url(#w17)"/>
      <polygon points="0.1978,0.4683 0.16532,0.23882 0.17036,0.19836" fill="url(#w18)"/>
      <polygon points="0.1978,0.4683 0.17036,0.19836 0.1754,0.1579" fill="url(#w19)"/>
      <polygon points="0.1978,0.4683 0.1754,0.1579 0.20293,0.1944" fill="url(#w20)"/>
      <polygon points="0.1978,0.4683 0.20293,0.1944 0.23046,0.2309" fill="url(#w21)"/>
      <polygon points="0.1978,0.4683 0.23046,0.2309 0.25799,0.2674" fill="url(#w22)"/>
      <polygon points="0.1978,0.4683 0.25799,0.2674 0.28552,0.3039" fill="url(#w23)"/>
      <polygon points="0.1978,0.4683 0.28552,0.3039 0.31305,0.3404" fill="url(#w24)"/>
      <polygon points="0.1978,0.4683 0.31305,0.3404 0.34058,0.3769" fill="url(#w25)"/>
      <polygon points="0.1978,0.4683 0.34058,0.3769 0.36811,0.4134" fill="url(#w26)"/>
      <polygon points="0.1978,0.4683 0.36811,0.4134 0.39564,0.4499" fill="url(#w27)"/>
      <polygon points="0.1978,0.4683 0.39564,0.4499 0.42317,0.4864" fill="url(#w28)"/>
      <polygon points="0.1978,0.4683 0.42317,0.4864 0.4507,0.5229" fill="url(#w29)"/>
    </g>
  </g>
</g>

<g fill="none" stroke="#ffffff" stroke-width="2.5">
  <rect x="2402.7" y="561" width="26" height="26"/>
  <rect x="2416.3" y="580" width="26" height="26"/>
  <rect x="2427" y="593.3" width="26" height="26"/>
  <rect x="2440.3" y="606.7" width="26" height="26"/>
  <rect x="2454" y="623.3" width="26" height="26"/>
  <rect x="2467.7" y="639.7" width="26" height="26"/>
  <rect x="2487" y="661" width="26" height="26"/>
  <rect x="2506" y="683" width="26" height="26"/>
  <rect x="2525" y="704.7" width="26" height="26"/>
  <rect x="2545.3" y="729" width="26" height="26"/>

  <rect x="2584.4" y="583" width="26" height="26"/>
  <rect x="2583.1" y="599" width="26" height="26"/>
  <rect x="2581.9" y="615" width="26" height="26"/>
  <rect x="2580.8" y="629" width="26" height="26"/>
  <rect x="2579.6" y="643" width="26" height="26"/>
  <rect x="2578.1" y="662" width="26" height="26"/>
  <rect x="2576.9" y="678" width="26" height="26"/>
  <rect x="2575.2" y="699" width="26" height="26"/>
  <rect x="2573.7" y="719" width="26" height="26"/>
  <rect x="2572.2" y="737" width="26" height="26"/>

  <rect x="2433" y="787.3" width="26" height="26"/>
  <rect x="2448" y="784.4" width="26" height="26"/>
  <rect x="2462" y="781.7" width="26" height="26"/>
  <rect x="2476" y="779" width="26" height="26"/>
  <rect x="2490" y="776.2" width="26" height="26"/>
  <rect x="2505" y="773.3" width="26" height="26"/>
  <rect x="2518" y="770.8" width="26" height="26"/>
  <rect x="2531" y="768.3" width="26" height="26"/>
  <rect x="2546" y="765.3" width="26" height="26"/>
  <rect x="2561" y="762.4" width="26" height="26"/>

  <rect x="3151.6" y="645.2" width="26" height="26"/>
  <rect x="3073.4" y="660.9" width="26" height="26"/>
  <rect x="3013.1" y="672.4" width="26" height="26"/>
  <rect x="2954.1" y="683.1" width="26" height="26"/>
  <rect x="2894.1" y="693.8" width="26" height="26"/>
  <rect x="2836.6" y="707.4" width="26" height="26"/>
  <rect x="2790.6" y="715.2" width="26" height="26"/>
  <rect x="2733.8" y="726.6" width="26" height="26"/>
  <rect x="2674.3" y="737.4" width="26" height="26"/>
  <rect x="2622.7" y="747.7" width="26" height="26"/>

  <rect x="2818.1" y="1046.3" width="26" height="26"/>
  <rect x="2777.4" y="1003.4" width="26" height="26"/>
  <rect x="2747.4" y="964.9" width="26" height="26"/>
  <rect x="2717.5" y="929.8" width="26" height="26"/>
  <rect x="2690" y="900.1" width="26" height="26"/>
  <rect x="2668.7" y="875.3" width="26" height="26"/>
  <rect x="2647" y="851.2" width="26" height="26"/>
  <rect x="2625.3" y="824.3" width="26" height="26"/>
  <rect x="2606.3" y="799.3" width="26" height="26"/>
  <rect x="2590.3" y="778.7" width="26" height="26"/>

  <rect x="2519" y="1407" width="26" height="26"/>
  <rect x="2527.3" y="1275" width="26" height="26"/>
  <rect x="2535.7" y="1187.7" width="26" height="26"/>
  <rect x="2540.7" y="1114.7" width="26" height="26"/>
  <rect x="2546" y="1044" width="26" height="26"/>
  <rect x="2551.5" y="987" width="26" height="26"/>
  <rect x="2557" y="929.7" width="26" height="26"/>
  <rect x="2560" y="878.3" width="26" height="26"/>
  <rect x="2562.7" y="835" width="26" height="26"/>
  <rect x="2565.3" y="793.7" width="26" height="26"/>
</g>

<g stroke="#000" stroke-width="2">
  <circle cx="2415.7" cy="576.7" r="8" fill="#0a960a"/>
  <circle cx="2429.3" cy="592.7" r="8" fill="#1c9a1c"/>
  <circle cx="2442.7" cy="606" r="8" fill="#2f9f2e"/>
  <circle cx="2453.3" cy="622.7" r="8" fill="#41a33f"/>
  <circle cx="2469.3" cy="639" r="8" fill="#53a851"/>
  <circle cx="2483.3" cy="655.7" r="8" fill="#66ac63"/>
  <circle cx="2502.3" cy="676.7" r="8" fill="#78b175"/>
  <circle cx="2521.7" cy="698.3" r="8" fill="#8ab586"/>
  <circle cx="2540.3" cy="720.3" r="8" fill="#9dba98"/>
  <circle cx="2561.7" cy="747.3" r="8" fill="#afbeaa"/>

  <circle cx="2602.7" cy="598.3" r="8" fill="#c8be00"/>
  <circle cx="2600" cy="611.7" r="8" fill="#c7bf13"/>
  <circle cx="2600" cy="628.3" r="8" fill="#c7bf27"/>
  <circle cx="2597.3" cy="641.7" r="8" fill="#c6c03a"/>
  <circle cx="2597.7" cy="655.7" r="8" fill="#c6c04e"/>
  <circle cx="2595" cy="675" r="8" fill="#c5c161"/>
  <circle cx="2594.7" cy="690.7" r="8" fill="#c5c175"/>
  <circle cx="2592" cy="712.3" r="8" fill="#c4c288"/>
  <circle cx="2592" cy="731.7" r="8" fill="#c4c29c"/>
  <circle cx="2589.3" cy="750" r="8" fill="#c3c3af"/>

  <circle cx="2445" cy="805" r="8" fill="#00b4c8"/>
  <circle cx="2461.3" cy="801.7" r="8" fill="#12b5c7"/>
  <circle cx="2475.3" cy="799" r="8" fill="#25b6c6"/>
  <circle cx="2488.7" cy="796" r="8" fill="#37b7c5"/>
  <circle cx="2502.7" cy="793.3" r="8" fill="#49b8c4"/>
  <circle cx="2518.7" cy="790.7" r="8" fill="#5cbac2"/>
  <circle cx="2530.7" cy="787.7" r="8" fill="#6ebbc1"/>
  <circle cx="2543.3" cy="785.3" r="8" fill="#80bcc0"/>
  <circle cx="2559.3" cy="782.7" r="8" fill="#93bdbf"/>
  <circle cx="2575" cy="777.3" r="8" fill="#a5bebe"/>

  <circle cx="3167.1" cy="661.1" r="8" fill="#c80000"/>
  <circle cx="3090.7" cy="674.3" r="8" fill="#c71212"/>
  <circle cx="3034.3" cy="685" r="8" fill="#c72525"/>
  <circle cx="2975" cy="698.6" r="8" fill="#c63737"/>
  <circle cx="2917.1" cy="709.3" r="8" fill="#c64949"/>
  <circle cx="2857.9" cy="720.4" r="8" fill="#c55c5c"/>
  <circle cx="2811.4" cy="731.4" r="8" fill="#c56e6e"/>
  <circle cx="2751.8" cy="742.1" r="8" fill="#c48080"/>
  <circle cx="2692.5" cy="753.2" r="8" fill="#c49393"/>
  <circle cx="2641" cy="764.2" r="8" fill="#c3a5a5"/>

  <circle cx="2835.7" cy="1061.8" r="8" fill="#be00be"/>
  <circle cx="2798.2" cy="1018.9" r="8" fill="#bf12be"/>
  <circle cx="2765.7" cy="983.2" r="8" fill="#bf25be"/>
  <circle cx="2735.7" cy="948" r="8" fill="#c037be"/>
  <circle cx="2708.5" cy="915.5" r="8" fill="#c049be"/>
  <circle cx="2690" cy="894" r="8" fill="#c15cbe"/>
  <circle cx="2668" cy="866.5" r="8" fill="#c16ebe"/>
  <circle cx="2643.5" cy="839.6" r="8" fill="#c280be"/>
  <circle cx="2624.3" cy="817.7" r="8" fill="#c293be"/>
  <circle cx="2605.7" cy="796" r="8" fill="#c3a5be"/>

  <circle cx="2556.7" cy="1420.7" r="8" fill="none"/>
  <circle cx="2543" cy="1304.3" r="8" fill="#4949c8"/>
  <circle cx="2551" cy="1217" r="8" fill="#5656c8"/>
  <circle cx="2556.7" cy="1141.3" r="8" fill="#6262c8"/>
  <circle cx="2562" cy="1067.7" r="8" fill="#6f6fc8"/>
  <circle cx="2567.3" cy="1011" r="8" fill="#7c7cc8"/>
  <circle cx="2572.7" cy="951" r="8" fill="#8989c8"/>
  <circle cx="2578.3" cy="896.7" r="8" fill="#9595c8"/>
  <circle cx="2581" cy="855.7" r="8" fill="#a2a2c8"/>
  <circle cx="2584" cy="812.7" r="8" fill="#afafc8"/>
</g>
<rect x="2570.7" y="759" width="26" height="26" fill="#f8e8ec" stroke="#000" stroke-width="2.5"/>
<circle cx="2586.7" cy="777.3" r="8" fill="#ffffff" stroke="#000" stroke-width="2"/>

<rect x="2127" y="499" width="1384" height="1251" fill="none" stroke="#a0a0a0" stroke-width="2.5"/>
<g stroke="#bbbbbb" stroke-width="2.5">
  <line x1="2115" y1="1750" x2="2127" y2="1750"/>
  <line x1="2115" y1="1645.75" x2="2127" y2="1645.75"/>
  <line x1="2115" y1="1541.5" x2="2127" y2="1541.5"/>
  <line x1="2115" y1="1437.25" x2="2127" y2="1437.25"/>
  <line x1="2115" y1="1333" x2="2127" y2="1333"/>
  <line x1="2115" y1="1228.75" x2="2127" y2="1228.75"/>
  <line x1="2115" y1="1124.5" x2="2127" y2="1124.5"/>
  <line x1="2115" y1="1020.25" x2="2127" y2="1020.25"/>
  <line x1="2115" y1="916" x2="2127" y2="916"/>
  <line x1="2115" y1="811.75" x2="2127" y2="811.75"/>
  <line x1="2115" y1="707.5" x2="2127" y2="707.5"/>
  <line x1="2115" y1="603.25" x2="2127" y2="603.25"/>
  <line x1="2127" y1="1750" x2="2127" y2="1760"/>
  <line x1="2242.3" y1="1750" x2="2242.3" y2="1760"/>
  <line x1="2357.7" y1="1750" x2="2357.7" y2="1760"/>
  <line x1="2473" y1="1750" x2="2473" y2="1760"/>
  <line x1="2588.3" y1="1750" x2="2588.3" y2="1760"/>
  <line x1="2703.7" y1="1750" x2="2703.7" y2="1760"/>
  <line x1="2819" y1="1750" x2="2819" y2="1760"/>
  <line x1="2934.3" y1="1750" x2="2934.3" y2="1760"/>
  <line x1="3049.7" y1="1750" x2="3049.7" y2="1760"/>
  <line x1="3165" y1="1750" x2="3165" y2="1760"/>
  <line x1="3280.3" y1="1750" x2="3280.3" y2="1760"/>
  <line x1="3395.7" y1="1750" x2="3395.7" y2="1760"/>
</g>
<g font-size="27" fill="#dddddd" text-anchor="end">
  <text x="2113" y="1759.5">0</text>
  <text x="2113" y="1655.25">0.05</text>
  <text x="2113" y="1551">0.1</text>
  <text x="2113" y="1446.75">0.15</text>
  <text x="2113" y="1342.5">0.2</text>
  <text x="2113" y="1238.25">0.25</text>
  <text x="2113" y="1134">0.3</text>
  <text x="2113" y="1029.75">0.35</text>
  <text x="2113" y="925.5">0.4</text>
  <text x="2113" y="821.25">0.45</text>
  <text x="2113" y="717">0.5</text>
  <text x="2113" y="612.75">0.55</text>
</g>
<g font-size="27" fill="#dddddd" text-anchor="middle">
  <text x="2127" y="1792">0</text>
  <text x="2242.3" y="1792">0.05</text>
  <text x="2357.7" y="1792">0.1</text>
  <text x="2473" y="1792">0.15</text>
  <text x="2588.3" y="1792">0.2</text>
  <text x="2703.7" y="1792">0.25</text>
  <text x="2819" y="1792">0.3</text>
  <text x="2934.3" y="1792">0.35</text>
  <text x="3049.7" y="1792">0.4</text>
  <text x="3165" y="1792">0.45</text>
  <text x="3280.3" y="1792">0.5</text>
  <text x="3395.7" y="1792">0.55</text>
</g>

<!-- ============ Logo ============ -->
<g fill="none" stroke-width="20" stroke-linejoin="round" stroke-linecap="butt">
  <polyline points="69.9,2012.1 109,1973 148.1,2012.1" stroke="#ffc60b"/>
  <polyline points="64.1,2017.9 25,2057 64.1,2096.1" stroke="#46c3f2"/>
  <polyline points="153.9,2017.9 193,2057 153.9,2096.1" stroke="#13d413"/>
  <polyline points="69.9,2101.9 109,2141 148.1,2101.9" stroke="#e8145c"/>
</g>
<rect x="-17" y="-17" width="34" height="34" rx="5" fill="#ffc60b" transform="translate(109,2024) rotate(45)"/>
<rect x="-17" y="-17" width="34" height="34" rx="5" fill="#46c3f2" transform="translate(76,2057) rotate(45)"/>
<rect x="-17" y="-17" width="34" height="34" rx="5" fill="#13d413" transform="translate(142,2057) rotate(45)"/>
<rect x="-17" y="-17" width="34" height="34" rx="5" fill="#e8145c" transform="translate(109,2090) rotate(45)"/>
<text x="238" y="2112" font-size="220" fill="#ffffff" textLength="710" lengthAdjust="spacingAndGlyphs">calman</text>
</svg>
</body>
</html>
